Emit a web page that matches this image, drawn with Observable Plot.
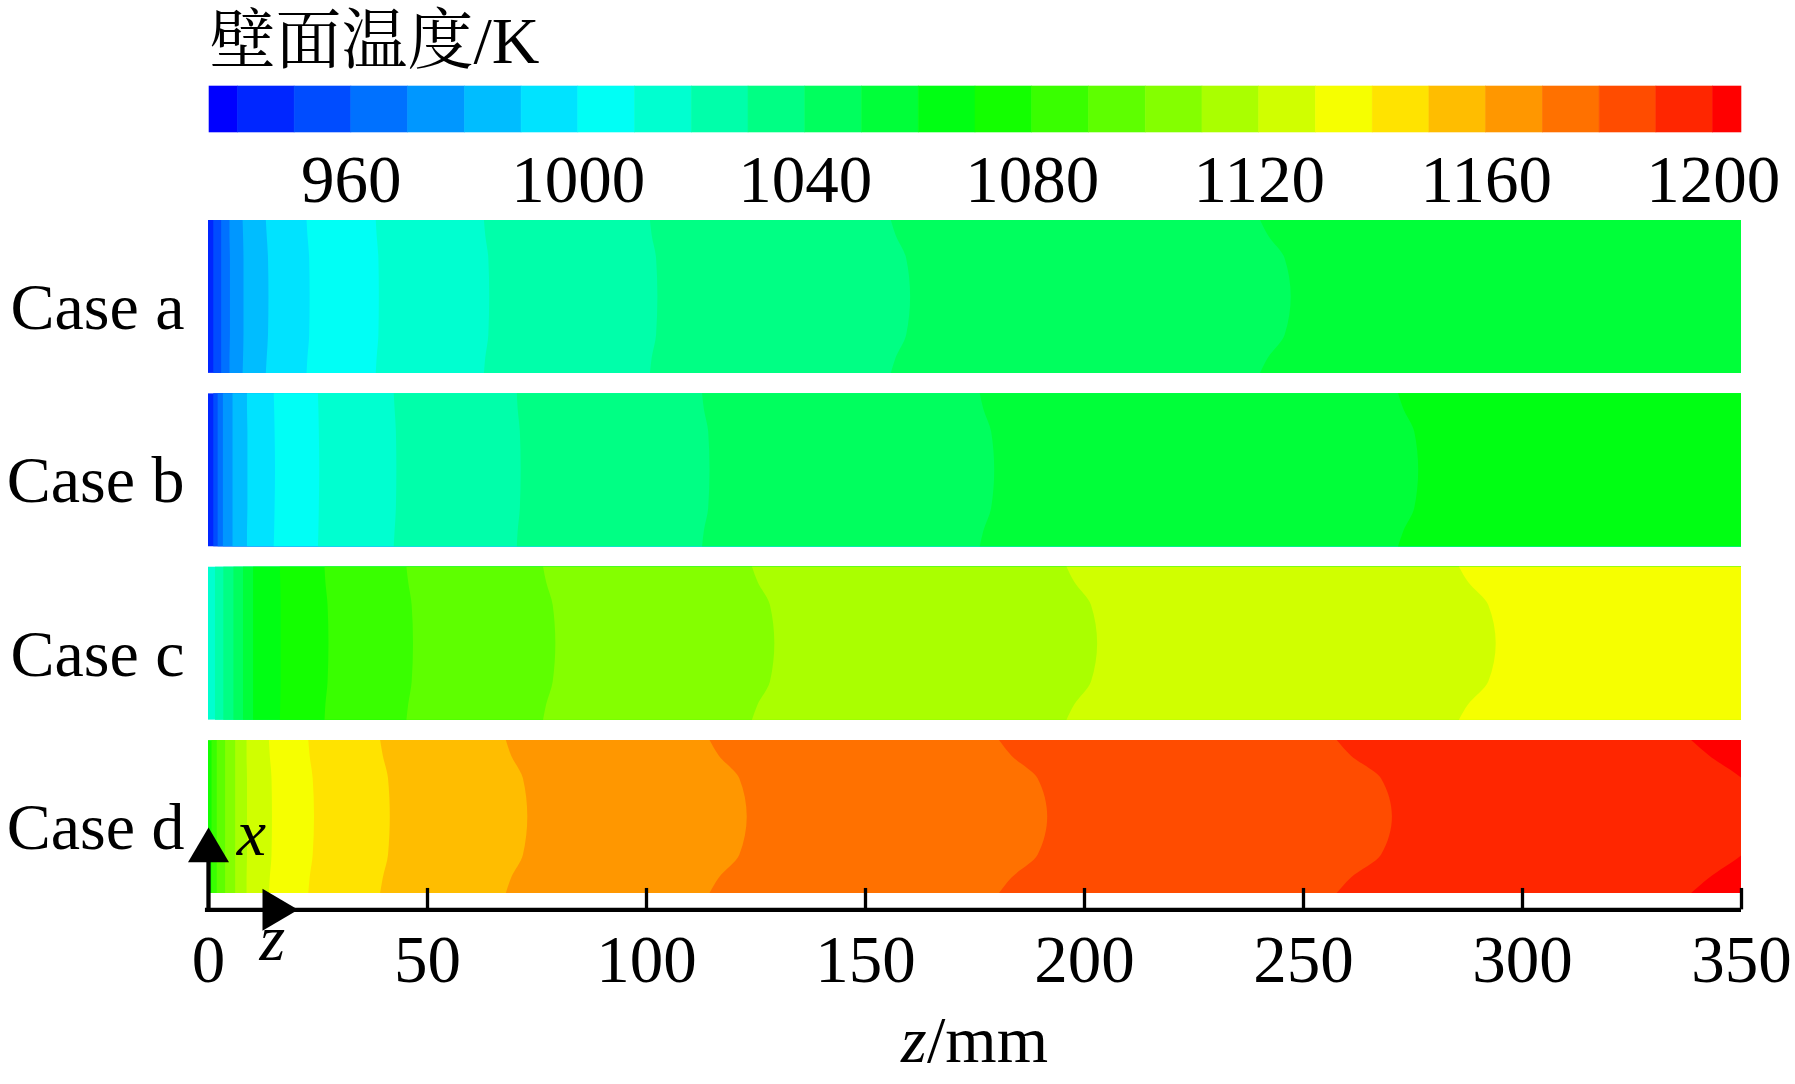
<!DOCTYPE html>
<html>
<head>
<meta charset="utf-8">
<script src="https://cdn.jsdelivr.net/npm/d3@7"></script>
<script src="https://cdn.jsdelivr.net/npm/@observablehq/plot@0.6"></script>
<style>
  html, body { margin: 0; padding: 0; background: #fff; }
  #chart svg { display: block; }
</style>
</head>
<body>
<div id="chart"></div>
<script>
// ---------------- data ----------------
const legendTitle = "壁面温度/K";
const tempMin = 935, tempMax = 1205;
// contour thresholds of the temperature field (K)
const levels = [940, 950, 960, 970, 980, 990, 1000, 1010, 1020, 1030, 1040, 1050, 1060, 1070,
                1080, 1090, 1100, 1110, 1120, 1130, 1140, 1150, 1160, 1170, 1180, 1190, 1200];
const legendTicks = [960, 1000, 1040, 1080, 1120, 1160, 1200];
const zTicks = [0, 50, 100, 150, 200, 250, 300, 350];
const caseNames = ["Case a", "Case b", "Case c", "Case d"];
// temperature band found at the inlet edge (z = 0) of each case
const caseBaseLevel = [940, 940, 1010, 1070];
// transverse sample positions across each strip (0 = upper edge, 1 = lower edge)
const samplePositions = [0, 0.1, 0.25, 0.5, 0.75, 0.9, 1];
// contour lines: [level K, z (mm) at each sample position]
const contoursA = [
  [950,  [1.2, 1.2, 1.2, 1.2, 1.2, 1.2, 1.2]],
  [960,  [3.0, 3.0, 3.0, 3.0, 3.0, 3.0, 3.0]],
  [970,  [4.9, 4.9, 5.0, 5.0, 5.0, 4.9, 4.9]],
  [980,  [7.9, 8.0, 8.1, 8.1, 8.1, 8.0, 7.9]],
  [990,  [13.2, 13.4, 13.7, 13.8, 13.7, 13.4, 13.2]],
  [1000, [22.5, 22.7, 23.1, 23.2, 23.1, 22.7, 22.5]],
  [1010, [38.3, 38.5, 38.9, 39.0, 38.9, 38.5, 38.3]],
  [1020, [63.0, 63.3, 64.0, 64.2, 64.0, 63.3, 63.0]],
  [1030, [100.9, 101.3, 102.3, 102.6, 102.3, 101.3, 100.9]],
  [1040, [155.9, 157.0, 159.4, 160.3, 159.4, 157.0, 155.9]],
  [1050, [240.2, 242.0, 245.8, 247.2, 245.8, 242.0, 240.2]]
];
const contoursB = [
  [950,  [1.2, 1.2, 1.2, 1.2, 1.2, 1.2, 1.2]],
  [960,  [2.2, 2.2, 2.2, 2.2, 2.2, 2.2, 2.2]],
  [970,  [3.4, 3.4, 3.4, 3.4, 3.4, 3.4, 3.4]],
  [980,  [5.6, 5.6, 5.6, 5.6, 5.6, 5.6, 5.6]],
  [990,  [8.9, 8.9, 9.0, 9.0, 9.0, 8.9, 8.9]],
  [1000, [15.0, 15.1, 15.2, 15.3, 15.2, 15.1, 15.0]],
  [1010, [25.1, 25.2, 25.3, 25.4, 25.3, 25.2, 25.1]],
  [1020, [42.4, 42.6, 42.9, 43.0, 42.9, 42.6, 42.4]],
  [1030, [70.5, 70.7, 71.2, 71.4, 71.2, 70.7, 70.5]],
  [1040, [112.8, 113.2, 114.2, 114.5, 114.2, 113.2, 112.8]],
  [1050, [176.2, 177.0, 178.8, 179.5, 178.8, 177.0, 176.2]],
  [1060, [271.7, 272.9, 275.4, 276.3, 275.4, 272.9, 271.7]]
];
const contoursC = [
  [1020, [1.6, 1.6, 1.6, 1.6, 1.6, 1.6, 1.6]],
  [1030, [3.5, 3.5, 3.5, 3.5, 3.5, 3.5, 3.5]],
  [1040, [5.8, 5.8, 5.8, 5.8, 5.8, 5.8, 5.8]],
  [1050, [8.0, 8.0, 8.0, 8.0, 8.0, 8.0, 8.0]],
  [1060, [10.3, 10.3, 10.3, 10.3, 10.3, 10.3, 10.3]],
  [1070, [16.4, 16.5, 16.6, 16.6, 16.6, 16.5, 16.4]],
  [1080, [26.6, 26.8, 27.3, 27.5, 27.3, 26.8, 26.6]],
  [1090, [45.3, 45.7, 46.5, 46.8, 46.5, 45.7, 45.3]],
  [1100, [76.5, 77.2, 78.7, 79.3, 78.7, 77.2, 76.5]],
  [1110, [124.2, 125.5, 128.3, 129.3, 128.3, 125.5, 124.2]],
  [1120, [196.0, 197.8, 201.6, 203.0, 201.6, 197.8, 196.0]],
  [1130, [285.6, 287.7, 292.3, 294.0, 292.3, 287.7, 285.6]]
];
const contoursD = [
  [1080, [0.8, 0.8, 0.8, 0.8, 0.8, 0.8, 0.8]],
  [1090, [2.0, 2.0, 2.0, 2.0, 2.0, 2.0, 2.0]],
  [1100, [3.9, 3.9, 3.9, 3.9, 3.9, 3.9, 3.9]],
  [1110, [6.2, 6.2, 6.2, 6.2, 6.2, 6.2, 6.2]],
  [1120, [8.8, 8.8, 8.9, 8.9, 8.9, 8.8, 8.8]],
  [1130, [13.9, 14.1, 14.5, 14.6, 14.5, 14.1, 13.9]],
  [1140, [22.9, 23.2, 23.9, 24.2, 23.9, 23.2, 22.9]],
  [1150, [39.3, 39.9, 41.1, 41.5, 41.1, 39.9, 39.3]],
  [1160, [68.0, 69.2, 71.9, 72.9, 71.9, 69.2, 68.0]],
  [1170, [114.5, 116.6, 121.3, 123.0, 121.3, 116.6, 114.5]],
  [1180, [180.6, 183.4, 189.4, 191.6, 189.4, 183.4, 180.6]],
  [1190, [257.7, 260.9, 267.8, 270.3, 267.8, 260.9, 257.7]],
  [1200, [338.6, 342.7, 350.2, 356.0, 350.2, 342.7, 338.6]]
];
const caseContours = [contoursA, contoursB, contoursC, contoursD];

// ---------------- styling / layout ----------------
const SERIF = "'Liberation Serif', 'Times New Roman', 'Noto Serif CJK SC', 'Noto Sans CJK SC', serif";
// rainbow palette (blue → red) with one colour per band
const nBands = levels.length + 1;
const colors = Array.from({length: nBands}, (_, i) => d3.hsl(240 - i * 240 / (nBands - 1), 1, 0.5).formatHex());
const colorScale = {type: "threshold", domain: levels, range: colors};

// layout in strip units: every strip is 1 unit tall, strips are STEP apart
const STEP = 1.134;
const Y_END = 3 * STEP + 1;
const AXIS_Y = Y_END + 0.107;
const TICK_TOP = Y_END - 0.033;
const ARROW_BASE = Y_END - 0.205;
const ARROW_UP_Y = Y_END - 0.318;
const X_LABEL_Y = Y_END - 0.249;
const Z_LABEL_Y = Y_END + 0.438;
const TICK_LABEL_Y = Y_END + 0.582;
const AXIS_TITLE_Y = Y_END + 1.105;

// derived tables
const caseRows = caseNames.map((name, k) => ({name, top: k * STEP, base: caseBaseLevel[k]}));
const contourRows = [];
caseContours.forEach((list, k) => {
  list.forEach(([level, zs], j) => {
    zs.forEach((z, s) => contourRows.push({id: `${k}-${j}`, level, z, y: k * STEP + samplePositions[s]}));
  });
});
const legendEdges = [tempMin, ...levels, tempMax];
const legendBands = legendEdges.slice(0, -1).map((lo, i) => ({lo, hi: legendEdges[i + 1]}));

// custom filled triangles for the coordinate arrows
const triUp = {draw(ctx, size) { const r = Math.sqrt(size / Math.PI); ctx.moveTo(0, -0.85 * r); ctx.lineTo(r, 0.85 * r); ctx.lineTo(-r, 0.85 * r); ctx.closePath(); }};
const triRight = {draw(ctx, size) { const r = Math.sqrt(size / Math.PI); ctx.moveTo(0.85 * r, 0); ctx.lineTo(-0.85 * r, r); ctx.lineTo(-0.85 * r, -r); ctx.closePath(); }};

// ---------------- colour bar ----------------
const legendPlot = Plot.plot({
  width: 1795, height: 210,
  marginLeft: 209, marginRight: 54, marginTop: 86, marginBottom: 78,
  x: {domain: [tempMin, tempMax], range: [209, 1741], axis: null},
  y: {domain: [0, 1], range: [132, 86], axis: null},
  color: colorScale,
  style: {fontFamily: SERIF, background: "white", color: "black", overflow: "visible"},
  marks: [
    Plot.rect(legendBands, {x1: "lo", x2: "hi", y1: () => 0, y2: () => 1, fill: "lo", stroke: "lo", strokeWidth: 0.6}),
    Plot.text(legendTicks, {x: d => d, y: () => -1.5, text: d => String(d), fontSize: 67, lineAnchor: "bottom", fill: "black"}),
    Plot.text([legendTitle], {x: () => tempMin, y: () => 1.52, text: d => d, textAnchor: "start", lineAnchor: "bottom", fontSize: 66, fill: "black"})
  ]
});

// ---------------- temperature strips ----------------
const mainPlot = Plot.plot({
  width: 1795, height: 874,
  marginLeft: 208, marginRight: 54, marginTop: 10, marginBottom: 191,
  x: {domain: [0, 350], range: [208, 1741], axis: null},
  y: {domain: [0, Y_END], range: [10, 683], axis: null},
  color: colorScale,
  style: {fontFamily: SERIF, background: "white", color: "black", overflow: "visible"},
  marks: [
    Plot.rect(caseRows, {x1: () => 0, x2: () => 350, y1: d => d.top, y2: d => d.top + 1, fill: d => d.base}),
    Plot.areaX(contourRows, {y: "y", x1: "z", x2: () => 350, z: "id", fill: "level", curve: "monotone-y", clip: true}),
    Plot.text(caseRows, {x: () => 0, y: d => d.top + 0.5, text: "name", textAnchor: "end", lineAnchor: "bottom", dx: -24, dy: 32, fontSize: 66, fill: "black"}),
    // z axis
    Plot.ruleY([AXIS_Y], {x1: () => -0.7, x2: () => 350, stroke: "black", strokeWidth: 4.3}),
    Plot.ruleX(zTicks.slice(1), {x: d => d, y1: () => TICK_TOP, y2: () => AXIS_Y, stroke: "black", strokeWidth: 3.3}),
    Plot.text(zTicks, {x: d => d, y: () => TICK_LABEL_Y, text: d => String(d), fontSize: 67, lineAnchor: "bottom", fill: "black"}),
    Plot.text(["z"], {x: () => 175, y: () => AXIS_TITLE_Y, text: d => d, dx: -74, textAnchor: "start", lineAnchor: "bottom", fontSize: 66, fontStyle: "italic", fill: "black"}),
    Plot.text(["/mm"], {x: () => 175, y: () => AXIS_TITLE_Y, text: d => d, dx: -48, textAnchor: "start", lineAnchor: "bottom", fontSize: 66, fill: "black"}),
    // local coordinate arrows (x up, z right)
    Plot.ruleX([0], {x: d => d, y1: () => ARROW_BASE, y2: () => AXIS_Y, stroke: "black", strokeWidth: 4.3}),
    Plot.dot([0], {x: d => d, y: () => ARROW_UP_Y, r: 20.5, symbol: triUp, fill: "black", stroke: "none"}),
    Plot.dot([16.4], {x: d => d, y: () => AXIS_Y, r: 21, symbol: triRight, fill: "black", stroke: "none"}),
    Plot.text(["x"], {x: () => 9.8, y: () => X_LABEL_Y, text: d => d, lineAnchor: "bottom", fontSize: 66, fontStyle: "italic", fill: "black"}),
    Plot.text(["z"], {x: () => 14.6, y: () => Z_LABEL_Y, text: d => d, lineAnchor: "bottom", fontSize: 66, fontStyle: "italic", fill: "black"})
  ]
});

const chart = document.getElementById("chart");
chart.appendChild(legendPlot);
chart.appendChild(mainPlot);
</script>
</body>
</html>
